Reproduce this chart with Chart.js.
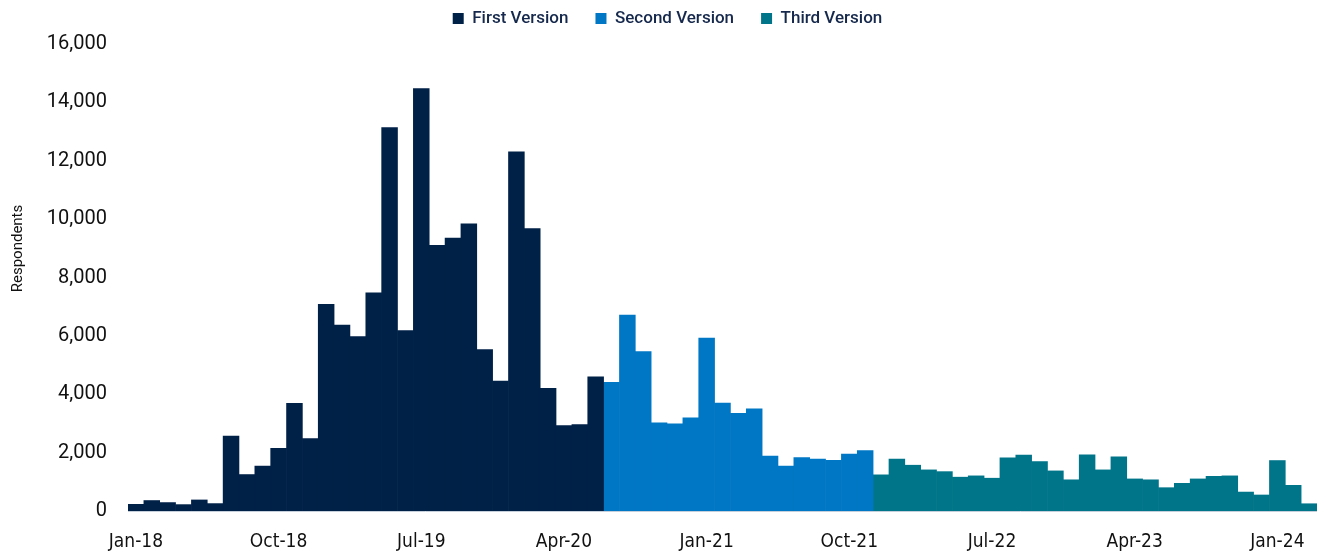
<!DOCTYPE html>
<html lang="en">
<head>
    <meta charset="UTF-8">
    <title>Respondents by Version</title>
    <script src="https://cdn.jsdelivr.net/npm/chart.js"></script>
    <style>
        html, body {
            margin: 0;
            padding: 0;
            background: #fff;
        }
        .chart-container {
            width: 1317px;
            height: 552px;
        }
    </style>
</head>
<body>
    <div class="chart-container">
        <canvas id="respondentsChart" width="1317" height="552"></canvas>
    </div>

    <script>
        // Monthly categories, Jan-18 .. Mar-24
        const months = [
            'Jan-18', 'Feb-18', 'Mar-18', 'Apr-18', 'May-18', 'Jun-18', 'Jul-18', 'Aug-18', 'Sep-18', 'Oct-18', 'Nov-18', 'Dec-18',
            'Jan-19', 'Feb-19', 'Mar-19', 'Apr-19', 'May-19', 'Jun-19', 'Jul-19', 'Aug-19', 'Sep-19', 'Oct-19', 'Nov-19', 'Dec-19',
            'Jan-20', 'Feb-20', 'Mar-20', 'Apr-20', 'May-20', 'Jun-20', 'Jul-20', 'Aug-20', 'Sep-20', 'Oct-20', 'Nov-20', 'Dec-20',
            'Jan-21', 'Feb-21', 'Mar-21', 'Apr-21', 'May-21', 'Jun-21', 'Jul-21', 'Aug-21', 'Sep-21', 'Oct-21', 'Nov-21', 'Dec-21',
            'Jan-22', 'Feb-22', 'Mar-22', 'Apr-22', 'May-22', 'Jun-22', 'Jul-22', 'Aug-22', 'Sep-22', 'Oct-22', 'Nov-22', 'Dec-22',
            'Jan-23', 'Feb-23', 'Mar-23', 'Apr-23', 'May-23', 'Jun-23', 'Jul-23', 'Aug-23', 'Sep-23', 'Oct-23', 'Nov-23', 'Dec-23',
            'Jan-24', 'Feb-24', 'Mar-24'
        ];

        // Labels shown on the x axis
        const tickLabels = ['Jan-18', 'Oct-18', 'Jul-19', 'Apr-20', 'Jan-21', 'Oct-21', 'Jul-22', 'Apr-23', 'Jan-24'];

        // First Version: Jan-18 .. Jun-20
        const firstVersion = [
            240, 370, 300, 230, 390, 265, 2580, 1260, 1550, 2160, 3700, 2490,
            7090, 6380, 5990, 7490, 13150, 6190, 14480, 9110, 9360, 9850, 5540, 4460,
            12320, 9690, 4210, 2940, 2970, 4610
        ];

        // Second Version: Jul-20 .. Nov-21
        const secondVersion = [
            4420, 6720, 5470, 3030, 3000, 3200, 5940, 3710, 3360, 3510, 1890, 1550,
            1840, 1790, 1750, 1960, 2085
        ];

        // Third Version: Dec-21 .. Mar-24
        const thirdVersion = [
            1250, 1790, 1580, 1420, 1360, 1170, 1215, 1135, 1830, 1925, 1705, 1385,
            1080, 1940, 1420, 1870, 1110, 1080, 810, 960, 1110, 1200, 1215, 660,
            560, 1740, 890, 260
        ];

        const yTicks = [0, 2000, 4000, 6000, 8000, 10000, 12000, 14000, 16000];

        // pad each series out to the full month range
        function placeSeries(values, start) {
            const out = months.map(() => null);
            values.forEach((v, i) => { out[start + i] = v; });
            return out;
        }

        const secondStart = firstVersion.length;
        const thirdStart = secondStart + secondVersion.length;

        const condensed = "'DejaVu Sans Condensed', Roboto, sans-serif";

        // legend box is 44px tall (plot starts there), items drawn near the top
        const legendTweak = {
            id: 'legendTweak',
            beforeInit(chart) {
                const lg = chart.legend;
                const origFit = lg.fit;
                lg.fit = function () {
                    origFit.call(lg);
                    this.height = 44;
                };
                const origDraw = lg._draw;
                lg._draw = function () {
                    const c = this.ctx;
                    c.save();
                    c.translate(9, -17);
                    origDraw.call(lg);
                    c.restore();
                };
            }
        };

        const ctx = document.getElementById('respondentsChart').getContext('2d');
        new Chart(ctx, {
            type: 'bar',
            data: {
                labels: months,
                datasets: [
                    {
                        label: 'First Version',
                        data: placeSeries(firstVersion, 0),
                        backgroundColor: '#002147'
                    },
                    {
                        label: 'Second Version',
                        data: placeSeries(secondVersion, secondStart),
                        backgroundColor: '#0077c4'
                    },
                    {
                        label: 'Third Version',
                        data: placeSeries(thirdVersion, thirdStart),
                        backgroundColor: '#00758a'
                    }
                ]
            },
            options: {
                responsive: false,
                animation: false,
                maintainAspectRatio: false,
                layout: { padding: 0 },
                datasets: {
                    bar: {
                        categoryPercentage: 1.0,
                        barPercentage: 1.04,
                        borderWidth: 0
                    }
                },
                plugins: {
                    legend: {
                        position: 'top',
                        labels: {
                            boxWidth: 11,
                            boxHeight: 11,
                            padding: 27,
                            color: '#16294d',
                            font: { family: 'Roboto, sans-serif', size: 17, weight: '500' }
                        }
                    },
                    tooltip: { enabled: false }
                },
                scales: {
                    x: {
                        stacked: true,
                        grid: { display: false, drawTicks: true, tickLength: 18 },
                        border: { display: true, color: '#c5cfdb', width: 1 },
                        ticks: {
                            autoSkip: false,
                            maxRotation: 0,
                            padding: 2,
                            color: '#111',
                            font: { family: condensed, size: 19 },
                            callback: function (value, index) {
                                const lbl = months[index];
                                return tickLabels.includes(lbl) ? lbl : '';
                            }
                        },
                        afterFit: function (scale) { scale.height = 41; }
                    },
                    y: {
                        stacked: true,
                        min: 0,
                        max: 16000,
                        afterBuildTicks: function (scale) {
                            scale.ticks = yTicks.map(v => ({ value: v }));
                        },
                        grid: { display: false, drawTicks: false },
                        border: { display: false },
                        ticks: {
                            padding: 21,
                            color: '#111',
                            font: { family: 'Roboto, sans-serif', size: 20 },
                            callback: v => v.toLocaleString('en-US')
                        },
                        title: {
                            display: true,
                            text: 'Respondents',
                            color: '#111',
                            padding: { top: 9, bottom: 0 },
                            font: { family: 'Roboto, sans-serif', size: 15 }
                        },
                        afterFit: function (scale) {
                            scale.width = 128;
                            // the original axis title sits a little above the middle
                            if (!scale._titleMoved) {
                                const origTitle = scale.drawTitle;
                                scale.drawTitle = function () {
                                    this.ctx.save();
                                    this.ctx.translate(0, -29);
                                    origTitle.call(this);
                                    this.ctx.restore();
                                };
                                scale._titleMoved = true;
                            }
                        }
                    }
                }
            },
            plugins: [legendTweak]
        });
    </script>
</body>
</html>
